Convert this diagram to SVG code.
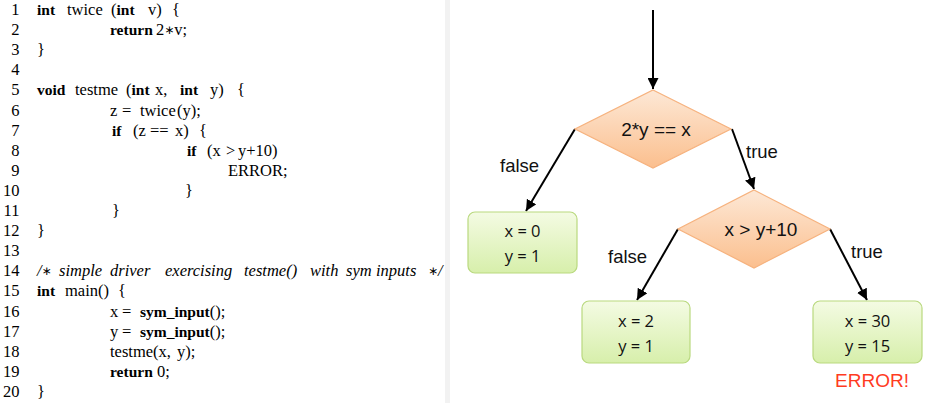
<svg xmlns="http://www.w3.org/2000/svg" width="928" height="403" viewBox="0 0 928 403">
<style>
.code{font-family:"Liberation Serif","Times New Roman",serif;font-size:16.5px;fill:#000}
.num{text-anchor:end}
.b{font-weight:bold;font-size:15.5px}
.i{font-style:italic}
.ast{font-family:"DejaVu Sans",sans-serif;font-size:12px;font-style:normal}
.lbl{font-family:"Liberation Sans",Arial,sans-serif;font-size:18.5px;fill:#111}
.dtxt{font-family:"Liberation Sans",Arial,sans-serif;font-size:19px;fill:#111;text-anchor:middle}
.btxt{font-family:"Open Sans","Noto Sans",sans-serif;font-size:16.5px;fill:#111;text-anchor:middle}
.dia{fill:url(#gO);stroke:#f6b27e;stroke-width:1.2}
.box{fill:url(#gG);stroke:#b9d97f;stroke-width:1.2}
.edge{stroke:#000;stroke-width:2;fill:none;marker-end:url(#ah)}
</style>
<defs>
<linearGradient id="gO" x1="0" y1="0" x2="0" y2="1">
<stop offset="0" stop-color="#fde8d6"/>
<stop offset="1" stop-color="#fbbf8e"/>
</linearGradient>
<linearGradient id="gG" x1="0" y1="0" x2="0" y2="1">
<stop offset="0" stop-color="#f4fbe3"/>
<stop offset="1" stop-color="#d7efab"/>
</linearGradient>
<marker id="ah" viewBox="0 0 10 10" refX="10" refY="5" markerWidth="11" markerHeight="11" markerUnits="userSpaceOnUse" orient="auto">
<path d="M0,0 L10,5 L0,10 z" fill="#000"/>
</marker>
</defs>
<rect width="928" height="403" fill="#fff"/>
<rect x="445" y="0" width="5" height="403" fill="#f2f2f2"/>

<g id="code" class="code">
<g class="num">
<text x="19.5" y="15">1</text>
<text x="19.5" y="35.1">2</text>
<text x="19.5" y="55.2">3</text>
<text x="19.5" y="75.3">4</text>
<text x="19.5" y="95.4">5</text>
<text x="19.5" y="115.5">6</text>
<text x="19.5" y="135.6">7</text>
<text x="19.5" y="155.7">8</text>
<text x="19.5" y="175.8">9</text>
<text x="19.5" y="195.9">10</text>
<text x="19.5" y="216">11</text>
<text x="19.5" y="236.1">12</text>
<text x="19.5" y="256.2">13</text>
<text x="19.5" y="276.3">14</text>
<text x="19.5" y="296.4">15</text>
<text x="19.5" y="316.5">16</text>
<text x="19.5" y="336.6">17</text>
<text x="19.5" y="356.7">18</text>
<text x="19.5" y="376.8">19</text>
<text x="19.5" y="396.9">20</text>
</g>
<text y="15"><tspan x="37" class="b">int</tspan><tspan x="67">twice</tspan><tspan x="111">(</tspan><tspan class="b">int</tspan><tspan x="148">v)</tspan><tspan x="172">{</tspan></text>
<text y="35.1"><tspan x="110" class="b">return</tspan><tspan x="156">2</tspan><tspan class="ast" dy="-1">∗</tspan><tspan dy="1">v;</tspan></text>
<text y="55.2" x="37">}</text>
<text y="95.4"><tspan x="37" class="b">void</tspan><tspan x="75">testme</tspan><tspan x="126">(</tspan><tspan class="b">int</tspan><tspan x="155">x,</tspan><tspan x="180" class="b">int</tspan><tspan x="210">y)</tspan><tspan x="237">{</tspan></text>
<text y="115.5"><tspan x="110">z</tspan><tspan x="122">=</tspan><tspan x="140">twice</tspan><tspan x="177">(y);</tspan></text>
<text y="135.6"><tspan x="112" class="b">if</tspan><tspan x="133">(z</tspan><tspan x="150">==</tspan><tspan x="175">x)</tspan><tspan x="199">{</tspan></text>
<text y="155.7"><tspan x="187" class="b">if</tspan><tspan x="207">(x</tspan><tspan x="226">&gt;</tspan><tspan x="238">y+10)</tspan></text>
<text y="175.8" x="228">ERROR;</text>
<text y="195.9" x="185">}</text>
<text y="216" x="112">}</text>
<text y="236.1" x="37">}</text>
<text y="276.3" class="i"><tspan x="37">/</tspan><tspan class="ast" dy="-1">∗</tspan><tspan x="59" dy="1">simple</tspan><tspan x="110">driver</tspan><tspan x="165">exercising</tspan><tspan x="244">testme()</tspan><tspan x="310">with</tspan><tspan x="346">sym</tspan><tspan x="376">inputs</tspan><tspan x="428" class="ast" dy="-1">∗</tspan><tspan dy="1">/</tspan></text>
<text y="296.4"><tspan x="37" class="b">int</tspan><tspan x="65">main()</tspan><tspan x="118">{</tspan></text>
<text y="316.5"><tspan x="110">x</tspan><tspan x="122">=</tspan><tspan x="140" class="b">sym_input</tspan><tspan>();</tspan></text>
<text y="336.6"><tspan x="110">y</tspan><tspan x="122">=</tspan><tspan x="140" class="b">sym_input</tspan><tspan>();</tspan></text>
<text y="356.7"><tspan x="110">testme(x,</tspan><tspan x="177">y);</tspan></text>
<text y="376.8"><tspan x="110" class="b">return</tspan><tspan x="157">0;</tspan></text>
<text y="396.9" x="37">}</text>
</g>

<g id="connectors">
<line class="edge" x1="653" y1="10" x2="653" y2="89"/>
<line class="edge" x1="575" y1="129" x2="526" y2="211"/>
<line class="edge" x1="732" y1="129" x2="754" y2="189"/>
<line class="edge" x1="678" y1="229" x2="637" y2="300"/>
<line class="edge" x1="830" y1="229" x2="867" y2="300"/>
<text class="lbl" x="500" y="172">false</text>
<text class="lbl" x="746" y="158">true</text>
<text class="lbl" x="608" y="263">false</text>
<text class="lbl" x="851" y="258">true</text>
</g>

<g id="cond1">
<polygon class="dia" points="653,90 731,129 653,168 575,129"/>
<text class="dtxt" x="656" y="136">2*y == x</text>
</g>
<g id="cond2">
<polygon class="dia" points="754,190 830,229 754,268 678,229"/>
<text class="dtxt" x="761" y="236">x &gt; y+10</text>
</g>
<g id="res1">
<rect class="box" x="468" y="212" width="109" height="61" rx="7"/>
<text class="btxt" x="522.5" y="237">x = 0</text>
<text class="btxt" x="522.5" y="262">y = 1</text>
</g>
<g id="res2">
<rect class="box" x="582" y="301" width="108" height="62" rx="7"/>
<text class="btxt" x="636" y="327">x = 2</text>
<text class="btxt" x="636" y="352">y = 1</text>
</g>
<g id="res3">
<rect class="box" x="813" y="301" width="109" height="62" rx="7"/>
<text class="btxt" x="867.5" y="327">x = 30</text>
<text class="btxt" x="867.5" y="352">y = 15</text>
<text x="872" y="387" text-anchor="middle" font-family="'Liberation Sans',Arial,sans-serif" font-size="19px" fill="#ff3b1f">ERROR!</text>
</g>
</svg>
